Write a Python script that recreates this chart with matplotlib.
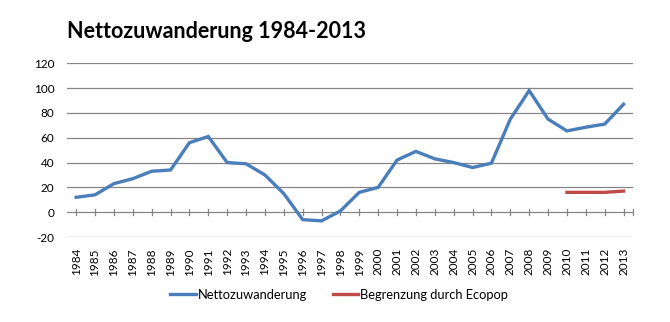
import matplotlib
matplotlib.use("Agg")
import matplotlib.pyplot as plt
from matplotlib.lines import Line2D

years = [str(y) for y in range(1984, 2014)]
netto = [12, 14, 23, 27, 33, 34, 56, 61, 40, 39, 30, 15, -6, -7, 1,
         16, 20, 42, 49, 43, 40, 36, 39.5, 75, 98, 75, 65.5, 68.5, 71, 87]
eco_years = ["2010", "2011", "2012", "2013"]
eco_vals = [16, 16, 16, 17]
yticks = [-20, 0, 20, 40, 60, 80, 100, 120]

plt.rcParams['font.family'] = ['Lato', 'DejaVu Sans']

fig = plt.figure(figsize=(6.7, 3.22), dpi=100)
ax = fig.add_axes([66.7 / 670, 85 / 322, (633 - 66.7) / 670, (258.7 - 85) / 322])

x = list(range(len(years)))
ax.plot(x, netto, color='#4A7EBB', lw=2.4, solid_joinstyle='miter', zorder=3)
ex = [years.index(y) for y in eco_years]
ax.plot(ex, eco_vals, color='#BE4B48', lw=2.4, zorder=3)

ax.set_xlim(-0.5, len(years) - 0.5)
ax.set_ylim(-20, 120)
ax.set_yticks(yticks)
ax.set_yticklabels([str(v) for v in yticks], fontsize=8.5)
for v in yticks:
    ax.axhline(v, color='#868686', lw=0.9, zorder=1)

ax.set_xticks(x)
ax.set_xticklabels(years, rotation=90, fontsize=8.5)
ax.tick_params(axis='x', length=0, pad=8)
ax.tick_params(axis='y', length=0, pad=9)
for xi in list(x) + [len(years) - 0.5]:
    ax.plot([xi, xi], [-2.2, 2.2], color='#868686', lw=0.9, zorder=2, clip_on=False)

for s in ax.spines.values():
    s.set_visible(False)

fig.text(67 / 670, 1 - 32 / 322, "Nettozuwanderung 1984-2013", fontsize=15.5,
         fontweight='bold', ha='left', va='center')

handles = [Line2D([], [], color='#4A7EBB', lw=2.4),
           Line2D([], [], color='#BE4B48', lw=2.4)]
fig.legend(handles, ["Nettozuwanderung", "Begrenzung durch Ecopop"],
           loc='center', bbox_to_anchor=(339 / 670, 1 - 295 / 322), ncol=2,
           frameon=False, fontsize=9.3, handlelength=2.0, handletextpad=0.1,
           columnspacing=2.0)

fig.savefig("out.png", dpi=100)
